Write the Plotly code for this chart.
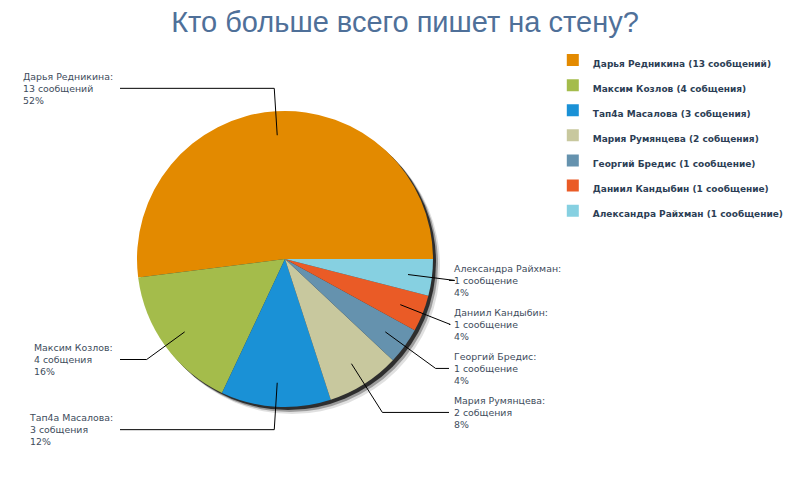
import math
import plotly.graph_objects as go

# ---- data ----
names = ["Дарья Редникина", "Максим Козлов", "Тап4а Масалова", "Мария Румянцева",
         "Георгий Бредис", "Даниил Кандыбин", "Александра Райхман"]
counts = [13, 4, 3, 2, 1, 1, 1]
units = ["сообщений", "собщения", "собщения", "собщения",
         "сообщение", "сообщение", "сообщение"]
colors = ["#E38A00", "#A4BC4B", "#1A91D6", "#C8C89E", "#6592AE", "#EA5B26", "#86D0E1"]
title_text = "Кто больше всего пишет на стену?"

# ---- layout geometry (pixels) ----
W, H = 800, 500
CX, CY, R = 285, 259, 148
D_IN, D_OUT = 124, 171
LABEL_GAP = 44
LEFT_LINE_END, LEFT_LABEL_X = 120, 115
RIGHT_LINE_END, RIGHT_LABEL_X = 449, 452


def px(x):
    return x / W


def py(y):
    return 1 - y / H


total = sum(counts)
legend_labels = [f'<span style="font-size:9px">{n} ({c} {u})</span>'
                 for n, c, u in zip(names, counts, units)]
# first slice starts at 3 o'clock and the pie runs counterclockwise
rotation = 90 - counts[0] / total * 360

fig = go.Figure()

# shadow layers
for off, op in [(7, 0.12), (5, 0.3), (3, 0.7)]:
    fig.add_trace(go.Pie(
        labels=["shadow"], values=[1], marker=dict(colors=["#000000"], line=dict(width=0)),
        opacity=op, textinfo="none", hoverinfo="skip", showlegend=False, sort=False,
        domain=dict(x=[px(CX - R + off), px(CX + R + off)],
                    y=[py(CY + R + off), py(CY - R + off)]),
    ))

fig.add_trace(go.Pie(
    labels=legend_labels, values=counts, sort=False, direction="counterclockwise",
    rotation=rotation, textinfo="none", hoverinfo="label+value+percent",
    marker=dict(colors=colors, line=dict(width=0)),
    domain=dict(x=[px(CX - R), px(CX + R)], y=[py(CY + R), py(CY - R)]),
))

# ---- outside labels with connectors ----
items = []
cum = 0
for n, c, u in zip(names, counts, units):
    mid = math.radians((cum + c / 2) / total * 360)
    cum += c
    cx, sy = math.cos(mid), -math.sin(mid)
    items.append(dict(name=n, count=c, unit=u, cos=cx, sy=sy,
                      nat=CY + sy * D_OUT, side="left" if cx < 0 else "right"))

for side in ["left", "right"]:
    grp = sorted([it for it in items if it["side"] == side], key=lambda it: it["nat"])
    prev = -1e9
    for it in grp:
        y = max(it["nat"], prev + LABEL_GAP)
        prev = y
        it["y"] = y

shapes = []
annotations = []
label_font = dict(family="Tahoma, DejaVu Sans", size=9.4, color="#3E4C5C")
for it in items:
    x0, y0 = CX + it["cos"] * D_IN, CY + it["sy"] * D_IN
    if abs(it["y"] - it["nat"]) < 1e-6:
        d = D_OUT
    else:
        d = (it["y"] - CY) / it["sy"]
    x1, y1 = CX + it["cos"] * d, CY + it["sy"] * d
    xe = LEFT_LINE_END if it["side"] == "left" else RIGHT_LINE_END
    path = f"M{px(x0)},{py(y0)} L{px(x1)},{py(y1)} L{px(xe)},{py(y1)}"
    shapes.append(dict(type="path", path=path, xref="paper", yref="paper",
                       line=dict(color="#000000", width=1)))
    pct = round(it["count"] / total * 100)
    txt = f"{it['name']}:<br>{it['count']} {it['unit']}<br>{pct}%"
    if it["side"] == "left":
        annotations.append(dict(x=px(LEFT_LABEL_X), y=py(y1), xref="paper", yref="paper",
                                text=txt, showarrow=False, xanchor="right", yanchor="middle",
                                align="left", font=label_font))
    else:
        annotations.append(dict(x=px(RIGHT_LABEL_X), y=py(y1), xref="paper", yref="paper",
                                text=txt, showarrow=False, xanchor="left", yanchor="middle",
                                align="left", font=label_font))

fig.update_layout(
    width=W, height=H,
    margin=dict(l=0, r=0, t=0, b=0, autoexpand=False),
    paper_bgcolor="#FFFFFF", plot_bgcolor="#FFFFFF",
    title=dict(text=title_text, x=405 / W, xanchor="center", y=1 - 22 / H, yanchor="middle",
               font=dict(family="Liberation Sans, Arial", size=29, color="#4F7099")),
    legend=dict(x=0.691, y=0.915, xanchor="left", yanchor="top",
                font=dict(family="Tahoma, DejaVu Sans", size=17, color="#2C3E55", weight="bold"),
                traceorder="normal", bgcolor="rgba(0,0,0,0)"),
    shapes=shapes, annotations=annotations,
)

fig.write_html("out.html", config={"displayModeBar": False},
               post_script="document.body.style.margin='0px';")
